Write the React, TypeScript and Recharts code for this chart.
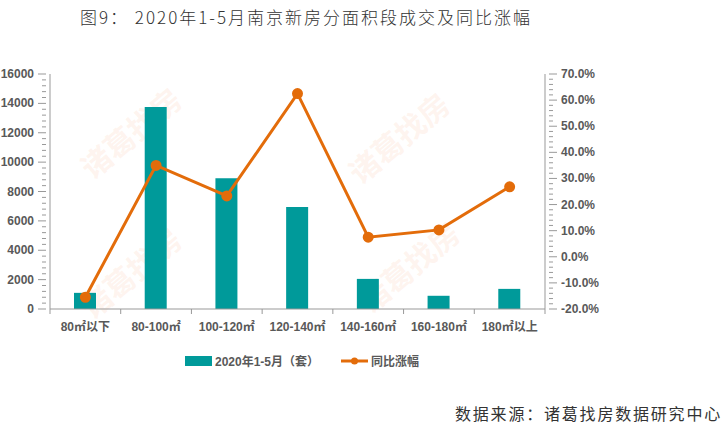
import { ComposedChart, Bar, Line, XAxis, YAxis } from 'recharts'

const categories = ['80㎡以下', '80-100㎡', '100-120㎡', '120-140㎡', '140-160㎡', '160-180㎡', '180㎡以上']
const deals = [1100, 13750, 8900, 6950, 2050, 900, 1370]
const yoy = [-15.5, 35.0, 23.3, 62.5, 7.5, 10.3, 26.8]

const leftTicks = Array.from({ length: 41 }, (_, i) => i * 400)
const rightTicks = Array.from({ length: 46 }, (_, i) => -20 + i * 2)

const data = categories.map((name, i) => ({ name, deals: deals[i], yoy: yoy[i] }))

const BAR = '#009A9A'
const LINE = '#E36C0A'
const AXIS = '#999999'
const LABEL = '#595959'
const FONT = '"Liberation Sans", Arial, "Noto Sans CJK SC", sans-serif'

const LeftTick = (props: any) => {
  const { x, y, payload } = props
  const major = payload.value % 2000 === 0
  return (
    <g>
      <line x1={major ? x - 4 : x} x2={x + 4} y1={y} y2={y} stroke={AXIS} />
      {major && (
        <text x={x - 8} y={y} dy={4} textAnchor="end" fontSize={12} fontWeight="bold" fill={LABEL} fontFamily={FONT}>
          {payload.value}
        </text>
      )}
    </g>
  )
}

const RightTick = (props: any) => {
  const { x, y, payload } = props
  const major = Math.round(payload.value) % 10 === 0
  return (
    <g>
      <line x1={x - 4} x2={major ? x + 4 : x} y1={y} y2={y} stroke={AXIS} />
      {major && (
        <text x={x + 8} y={y} dy={4} textAnchor="start" fontSize={12} fontWeight="bold" fill={LABEL} fontFamily={FONT}>
          {payload.value.toFixed(1)}%
        </text>
      )}
    </g>
  )
}

const XTick = (props: any) => {
  const { x, y, payload, index } = props
  const half = 495 / 7 / 2
  return (
    <g>
      {index === 0 && <line x1={x - half} x2={x - half} y1={y - 8} y2={y - 3} stroke={AXIS} />}
      <line x1={x + half} x2={x + half} y1={y - 8} y2={y - 3} stroke={AXIS} />
      <text x={x} y={y + 14} textAnchor="middle" fontSize={12} fontWeight="bold" fill={LABEL} fontFamily={FONT}>
        {payload.value}
      </text>
    </g>
  )
}

const marks = [
  [130, 128],
  [398, 133],
  [130, 268],
  [408, 262],
]

export default function App() {
  return (
    <div style={{ position: 'absolute', left: 0, top: 0, width: 727, height: 430, background: '#fff', fontFamily: '"Noto Sans CJK SC", sans-serif' }}>
      <div style={{ position: 'absolute', left: 80, top: 4, fontSize: 17, fontWeight: 300, color: '#333', letterSpacing: 2, whiteSpace: 'nowrap' }}>
        图9： 2020年1-5月南京新房分面积段成交及同比涨幅
      </div>
      {marks.map(([mx, my], i) => (
        <div
          key={i}
          style={{
            position: 'absolute',
            left: mx - 70,
            top: my - 18,
            width: 140,
            textAlign: 'center',
            fontSize: 30,
            fontWeight: 'bold',
            color: 'rgba(250, 200, 170, 0.2)',
            transform: 'rotate(-40deg)',
            whiteSpace: 'nowrap',
            pointerEvents: 'none',
          }}
        >
          诸葛找房
        </div>
      ))}
      <ComposedChart width={727} height={430} data={data} margin={{ top: 74, right: 122, bottom: 91, left: 0 }} style={{ position: 'absolute', left: 0, top: 0 }}>
        <XAxis dataKey="name" height={30} stroke={AXIS} tickLine={false} tick={<XTick />} interval={0} />
        <YAxis yAxisId="left" width={50} domain={[0, 16000]} ticks={leftTicks} interval={0} stroke={AXIS} tickLine={false} tick={<LeftTick />} />
        <YAxis yAxisId="right" orientation="right" width={60} domain={[-20, 70]} ticks={rightTicks} interval={0} stroke={AXIS} tickLine={false} tick={<RightTick />} />
        <Bar yAxisId="left" dataKey="deals" fill={BAR} barSize={22} isAnimationActive={false} />
        <Line yAxisId="right" dataKey="yoy" stroke={LINE} strokeWidth={3} dot={{ r: 4, fill: LINE, stroke: LINE }} isAnimationActive={false} />
      </ComposedChart>
      <div style={{ position: 'absolute', left: 2, top: 352, width: 600, display: 'flex', justifyContent: 'center', gap: 22, fontFamily: FONT, fontSize: 12, fontWeight: 'bold', color: LABEL }}>
        <div style={{ display: 'flex', alignItems: 'center', gap: 3 }}>
          <span style={{ display: 'inline-block', width: 27, height: 10, background: BAR }} />
          2020年1-5月（套）
        </div>
        <div style={{ display: 'flex', alignItems: 'center', gap: 3 }}>
          <svg width={27} height={10}>
            <line x1={0} x2={27} y1={5} y2={5} stroke={LINE} strokeWidth={3} />
            <circle cx={13.5} cy={5} r={3.5} fill={LINE} />
          </svg>
          同比涨幅
        </div>
      </div>
      <div style={{ position: 'absolute', left: 455, top: 401, fontSize: 16, color: '#333', letterSpacing: 1.8, whiteSpace: 'nowrap' }}>
        数据来源：诸葛找房数据研究中心
      </div>
    </div>
  )
}
